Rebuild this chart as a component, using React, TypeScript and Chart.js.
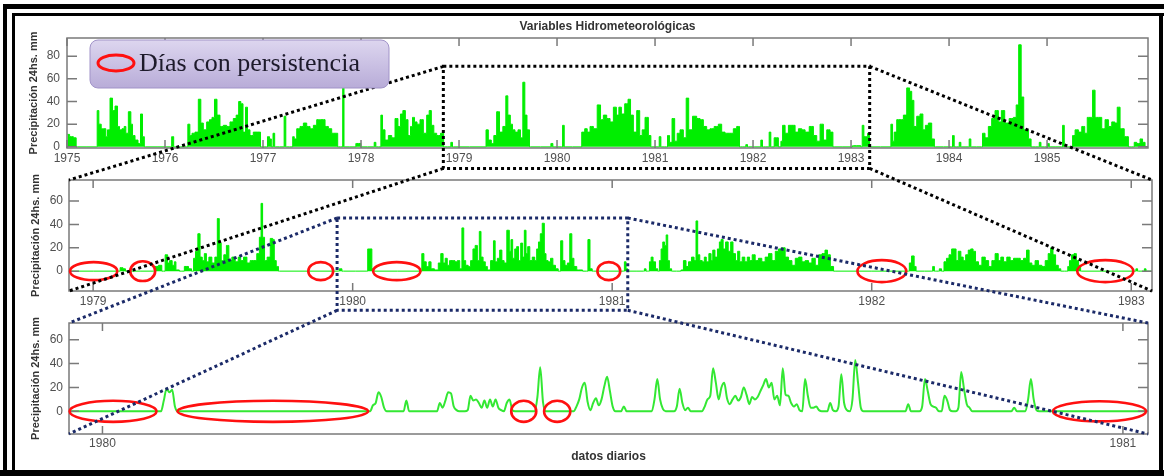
import React, { useEffect, useRef } from 'react';
import { Chart, registerables } from 'chart.js';

Chart.register(...registerables);

const FONT = '"Liberation Sans", Arial, Helvetica, sans-serif';
const GREEN_DENSE = '#00ee00';
const GREEN_LINE = '#33e833';
const AXIS_GRAY = '#7a7a7a';
const LABEL_GRAY = '#505050';
const TITLE_GRAY = '#333333';
const RED = '#ff1010';
const NAVY = '#1b2a68';

// ---------- Panel 1: 1975-1985 (readings: decimal year, mm) ----------
const p1Years = [
  1975.005, 1975.048, 1975.082, 1975.105, 1975.303, 1975.313, 1975.337, 1975.361, 1975.388, 1975.405,
  1975.422, 1975.456, 1975.473, 1975.507, 1975.524, 1975.548, 1975.575, 1975.592, 1975.609, 1975.643,
  1975.660, 1975.677, 1975.711, 1975.738, 1975.762, 1975.779, 1975.799, 1976.058, 1976.078, 1976.099,
  1976.221, 1976.245, 1976.262, 1976.289, 1976.323, 1976.357, 1976.374, 1976.408, 1976.442, 1976.466,
  1976.493, 1976.517, 1976.544, 1976.578, 1976.612, 1976.646, 1976.680, 1976.714, 1976.738, 1976.765,
  1976.782, 1976.810, 1976.833, 1976.850, 1976.884, 1976.918, 1976.963, 1976.986, 1977.037, 1977.054,
  1977.078, 1977.092, 1977.112, 1977.126, 1977.207, 1977.224, 1977.241, 1977.296, 1977.310, 1977.327,
  1977.361, 1977.395, 1977.429, 1977.463, 1977.497, 1977.531, 1977.565, 1977.588, 1977.616, 1977.650,
  1977.684, 1977.718, 1977.752, 1977.772, 1977.806, 1977.820, 1977.833, 1977.939, 1977.956, 1977.990,
  1978.007, 1978.126, 1978.143, 1978.160, 1978.194, 1978.211, 1978.228, 1978.262, 1978.296, 1978.330,
  1978.364, 1978.390, 1978.415, 1978.439, 1978.466, 1978.493, 1978.517, 1978.534, 1978.558, 1978.585,
  1978.619, 1978.653, 1978.687, 1978.704, 1978.731, 1978.755, 1978.789, 1978.833, 1978.854, 1978.908,
  1978.925, 1978.942, 1979.269, 1979.282, 1979.316, 1979.343, 1979.367, 1979.401, 1979.425, 1979.469,
  1979.486, 1979.510, 1979.537, 1979.554, 1979.588, 1979.615, 1979.639, 1979.663, 1979.680, 1979.707,
  1979.731, 1979.929, 1979.946, 1979.969, 1980.048, 1980.065, 1980.082, 1980.235, 1980.269, 1980.296,
  1980.320, 1980.354, 1980.388, 1980.432, 1980.456, 1980.490, 1980.524, 1980.558, 1980.592, 1980.619,
  1980.643, 1980.670, 1980.711, 1980.738, 1980.762, 1980.796, 1980.830, 1980.857, 1980.881, 1980.915,
  1980.949, 1980.966, 1981.034, 1981.051, 1981.068, 1981.119, 1981.136, 1981.160, 1981.187, 1981.214,
  1981.238, 1981.272, 1981.306, 1981.330, 1981.357, 1981.408, 1981.442, 1981.476, 1981.510, 1981.544,
  1981.578, 1981.629, 1981.663, 1981.697, 1981.731, 1981.782, 1981.816, 1981.850, 1981.874, 1981.918,
  1981.935, 1981.952, 1982.071, 1982.088, 1982.105, 1982.156, 1982.173, 1982.190, 1982.241, 1982.276,
  1982.293, 1982.310, 1982.344, 1982.378, 1982.412, 1982.446, 1982.480, 1982.514, 1982.548, 1982.599,
  1982.633, 1982.667, 1982.701, 1982.735, 1982.769, 1982.803, 1982.827, 1983.007, 1983.024, 1983.092,
  1983.109, 1983.119, 1983.143, 1983.160, 1983.177, 1983.201, 1983.398, 1983.415, 1983.432, 1983.449,
  1983.483, 1983.517, 1983.551, 1983.585, 1983.609, 1983.629, 1983.653, 1983.687, 1983.721, 1983.745,
  1983.772, 1983.806, 1983.840, 1983.861, 1984.027, 1984.044, 1984.061, 1984.095, 1984.112, 1984.129,
  1984.197, 1984.214, 1984.231, 1984.333, 1984.350, 1984.384, 1984.418, 1984.452, 1984.486, 1984.520,
  1984.548, 1984.588, 1984.639, 1984.673, 1984.697, 1984.724, 1984.748, 1984.776, 1984.793, 1984.827,
  1984.847, 1984.912, 1984.929, 1984.946, 1984.997, 1985.014, 1985.031, 1985.150, 1985.167, 1985.184,
  1985.252, 1985.269, 1985.303, 1985.337, 1985.371, 1985.398, 1985.422, 1985.456, 1985.473, 1985.507,
  1985.541, 1985.575, 1985.609, 1985.643, 1985.677, 1985.704, 1985.728, 1985.762, 1985.813, 1985.847,
  1985.881, 1985.898, 1985.932, 1985.966, 1985.983, 1986.017, 1986.030,
];
const p1Rain = [
  11, 9, 8, 0, 0, 32, 20, 16, 16, 9,
  15, 43, 32, 36, 18, 15, 16, 18, 12, 31,
  20, 10, 6, 3, 29, 9, 0, 0, 9, 0,
  0, 20, 10, 12, 13, 42, 21, 15, 22, 24,
  26, 42, 28, 18, 19, 18, 22, 25, 28, 40,
  38, 13, 35, 15, 10, 13, 13, 0, 0, 9,
  7, 0, 12, 0, 0, 27, 0, 0, 9, 7,
  16, 18, 21, 18, 16, 19, 24, 24, 24, 18,
  16, 12, 12, 0, 0, 54, 0, 0, 3, 3,
  0, 0, 4, 0, 0, 28, 15, 6, 10, 8,
  25, 18, 29, 32, 24, 10, 18, 26, 22, 20,
  24, 12, 28, 32, 19, 12, 10, 12, 0, 0,
  4, 0, 0, 15, 6, 3, 10, 31, 13, 18,
  45, 28, 20, 15, 13, 15, 8, 57, 28, 15,
  0, 0, 3, 0, 0, 19, 0, 0, 13, 16,
  13, 18, 16, 37, 24, 28, 25, 22, 35, 28,
  35, 29, 38, 42, 28, 13, 32, 10, 15, 26,
  10, 0, 0, 9, 0, 0, 10, 4, 25, 5,
  12, 15, 8, 43, 15, 27, 25, 24, 18, 15,
  16, 18, 20, 13, 12, 12, 16, 18, 0, 0,
  2, 0, 0, 6, 0, 0, 13, 0, 8, 0,
  5, 19, 12, 19, 19, 13, 16, 15, 13, 18,
  10, 5, 20, 6, 15, 13, 0, 0, 1, 1,
  0, 19, 9, 9, 12, 0, 0, 20, 5, 13,
  24, 24, 28, 52, 49, 41, 18, 27, 29, 15,
  19, 21, 7, 0, 0, 10, 0, 0, 4, 0,
  0, 7, 0, 0, 12, 8, 18, 25, 32, 22,
  32, 21, 25, 26, 37, 90, 44, 15, 15, 7,
  0, 0, 4, 0, 0, 3, 0, 0, 19, 0,
  0, 10, 15, 13, 18, 12, 26, 26, 50, 26,
  26, 16, 24, 18, 22, 21, 35, 16, 9, 0,
  0, 4, 3, 7, 4, 0, 0,
];
const p1XTicks = [1975, 1976, 1977, 1978, 1979, 1980, 1981, 1982, 1983, 1984, 1985];
const p1YTicks = [0, 20, 40, 60, 80];

// ---------- Panel 2: 1979-1982 (readings: decimal year, mm) ----------
const p2Years = [
  1978.907, 1979.098, 1979.110, 1979.119, 1979.130, 1979.232, 1979.245, 1979.258, 1979.271, 1979.284,
  1979.290, 1979.299, 1979.310, 1979.316, 1979.322, 1979.342, 1979.361, 1979.374, 1979.384, 1979.390,
  1979.399, 1979.408, 1979.416, 1979.425, 1979.432, 1979.441, 1979.451, 1979.464, 1979.474, 1979.483,
  1979.489, 1979.498, 1979.509, 1979.518, 1979.528, 1979.541, 1979.554, 1979.564, 1979.573, 1979.586,
  1979.599, 1979.611, 1979.624, 1979.637, 1979.644, 1979.650, 1979.656, 1979.665, 1979.676, 1979.689,
  1979.695, 1979.701, 1979.710, 1979.718, 1979.945, 1979.952, 1979.965, 1980.055, 1980.061, 1980.070,
  1980.078, 1980.083, 1980.263, 1980.270, 1980.279, 1980.288, 1980.299, 1980.305, 1980.325, 1980.335,
  1980.344, 1980.353, 1980.360, 1980.369, 1980.378, 1980.389, 1980.399, 1980.408, 1980.417, 1980.425,
  1980.431, 1980.440, 1980.450, 1980.459, 1980.468, 1980.476, 1980.485, 1980.491, 1980.498, 1980.507,
  1980.515, 1980.523, 1980.540, 1980.545, 1980.553, 1980.562, 1980.571, 1980.579, 1980.588, 1980.600,
  1980.607, 1980.613, 1980.620, 1980.629, 1980.635, 1980.643, 1980.652, 1980.658, 1980.665, 1980.671,
  1980.678, 1980.687, 1980.697, 1980.706, 1980.712, 1980.720, 1980.726, 1980.735, 1980.742, 1980.748,
  1980.758, 1980.767, 1980.776, 1980.787, 1980.797, 1980.806, 1980.813, 1980.823, 1980.832, 1980.841,
  1980.848, 1980.857, 1980.870, 1980.902, 1980.911, 1980.918, 1980.928, 1981.044, 1981.050, 1981.057,
  1981.063, 1981.121, 1981.127, 1981.134, 1981.140, 1981.147, 1981.153, 1981.162, 1981.172, 1981.179,
  1981.185, 1981.192, 1981.198, 1981.205, 1981.211, 1981.217, 1981.224, 1981.234, 1981.262, 1981.268,
  1981.281, 1981.288, 1981.300, 1981.311, 1981.320, 1981.326, 1981.333, 1981.342, 1981.352, 1981.358,
  1981.367, 1981.378, 1981.384, 1981.391, 1981.401, 1981.410, 1981.416, 1981.423, 1981.432, 1981.442,
  1981.452, 1981.461, 1981.470, 1981.480, 1981.487, 1981.496, 1981.506, 1981.516, 1981.525, 1981.534,
  1981.545, 1981.557, 1981.570, 1981.583, 1981.596, 1981.609, 1981.622, 1981.635, 1981.647, 1981.660,
  1981.673, 1981.686, 1981.699, 1981.712, 1981.725, 1981.737, 1981.750, 1981.763, 1981.776, 1981.789,
  1981.802, 1981.815, 1981.825, 1981.834, 1981.847, 1981.859, 1982.142, 1982.148, 1982.159, 1982.168,
  1982.174, 1982.232, 1982.238, 1982.245, 1982.257, 1982.264, 1982.274, 1982.283, 1982.293, 1982.303,
  1982.313, 1982.322, 1982.328, 1982.339, 1982.348, 1982.357, 1982.367, 1982.377, 1982.386, 1982.395,
  1982.405, 1982.418, 1982.431, 1982.444, 1982.457, 1982.469, 1982.482, 1982.493, 1982.502, 1982.514,
  1982.527, 1982.540, 1982.553, 1982.566, 1982.579, 1982.591, 1982.602, 1982.611, 1982.623, 1982.636,
  1982.649, 1982.662, 1982.675, 1982.685, 1982.694, 1982.703, 1982.714, 1982.724, 1982.733, 1982.752,
  1982.759, 1982.765, 1982.775, 1982.784, 1982.793, 1982.801, 1982.809, 1983.015, 1983.021, 1983.028,
  1983.047, 1983.054, 1983.060, 1983.080,
];
const p2Rain = [
  0, 0, 3, 2, 0, 0, 4, 5, 0, 14,
  7, 9, 5, 8, 1, 0, 4, 2, 0, 11,
  17, 32, 12, 9, 15, 8, 12, 7, 12, 45,
  24, 9, 14, 22, 9, 12, 8, 12, 9, 12,
  7, 9, 9, 15, 29, 58, 29, 9, 12, 28,
  27, 9, 4, 0, 0, 2, 0, 0, 19, 19,
  2, 0, 0, 15, 8, 4, 8, 2, 1, 7,
  15, 7, 11, 5, 9, 9, 8, 9, 2, 37,
  9, 5, 4, 9, 19, 22, 9, 34, 12, 8,
  4, 1, 9, 26, 8, 11, 18, 9, 7, 35,
  17, 27, 11, 19, 21, 9, 24, 12, 35, 15,
  21, 9, 12, 9, 19, 25, 32, 41, 15, 9,
  8, 11, 5, 2, 0, 26, 9, 5, 7, 32,
  11, 4, 1, 0, 27, 2, 0, 0, 8, 2,
  0, 0, 2, 0, 0, 8, 12, 8, 2, 0,
  9, 19, 25, 22, 31, 9, 2, 0, 0, 1,
  9, 4, 8, 12, 9, 43, 14, 9, 8, 12,
  8, 15, 9, 18, 12, 19, 25, 27, 19, 25,
  17, 25, 15, 9, 17, 8, 12, 8, 12, 9,
  14, 9, 11, 8, 12, 15, 9, 17, 19, 20,
  12, 9, 5, 11, 12, 8, 9, 7, 11, 5,
  14, 15, 18, 14, 4, 0, 0, 7, 13, 4,
  0, 0, 4, 0, 0, 2, 0, 8, 11, 14,
  19, 19, 9, 17, 12, 9, 14, 18, 19, 17,
  8, 5, 12, 9, 4, 9, 15, 9, 12, 8,
  12, 9, 11, 11, 9, 11, 18, 7, 5, 9,
  5, 4, 9, 15, 20, 14, 5, 2, 0, 0,
  4, 9, 14, 15, 9, 5, 0, 0, 2, 0,
  0, 2, 0, 0,
];
const p2XTicks = [1979, 1980, 1981, 1982, 1983];
const p2YTicks = [0, 20, 40, 60];

// ---------- Panel 3: daily data of 1980 (day 0 = 1 Jan 1980), rainy days only ----------
const p3FirstDay = -12;
const p3LastDay = 375;
const p3EventDays = [
  22, 23, 24, 25, 26, 97, 98, 99, 100, 101, 109,
  121, 122, 123, 124, 125, 126, 127,
  131, 132, 133, 134, 135, 136, 137, 138, 139, 140, 141, 142, 143, 145, 146, 147,
  156, 157, 158,
  170, 171, 172, 173, 174, 175, 176, 177, 178, 179, 180, 181, 182, 183, 187,
  198, 199, 200, 201, 206, 207, 208, 209, 210,
  216, 217, 218, 219, 220, 221, 222, 223, 224, 225, 226, 227, 228, 229, 230, 231, 232, 233,
  234, 235, 236, 237, 238, 239, 240, 241, 242, 243, 244, 245, 246, 247, 248, 249, 250,
  252, 253, 254, 255, 256, 257,
  261, 262, 264, 265, 266, 267, 269, 270, 271, 272,
  289, 294, 295, 296, 297, 298, 299, 302, 303, 304,
  307, 308, 309, 310, 311, 327, 332, 333, 334, 335,
];
const p3EventRain = [
  9, 19, 16, 18, 4, 5, 7, 16, 12, 3, 9,
  7, 3, 9, 16, 15, 4, 1,
  1, 13, 9, 10, 7, 3, 9, 3, 10, 4, 10, 3, 1, 7, 10, 1,
  12, 37, 8,
  4, 10, 20, 24, 8, 1, 7, 11, 5, 10, 21, 29, 17, 4, 4,
  10, 27, 10, 2, 4, 19, 7, 1, 3,
  4, 10, 13, 36, 24, 10, 20, 24, 11, 6, 10, 13, 9, 12, 20, 14, 6, 12,
  10, 12, 17, 22, 27, 20, 24, 10, 13, 5, 36, 14, 13, 7, 4, 6, 1,
  27, 13, 3, 3, 4, 1,
  7, 1, 4, 31, 7, 1, 10, 43, 24, 3,
  6, 4, 27, 17, 6, 4, 3, 13, 9, 1,
  3, 33, 19, 6, 3, 3, 10, 27, 10, 1,
];
const p3TickDays = [0, 366];
const p3TickLabels = ['1980', '1981'];
const p3YTicks = [0, 20, 40, 60];

// ---------- Annotations (data coordinates) ----------
const p2EllipseYears = [1979.002, 1979.191, 1979.877, 1980.170, 1980.987, 1982.039, 1982.900];
const p2EllipseHalfYears = [0.091, 0.048, 0.048, 0.091, 0.044, 0.094, 0.108];
const p2EllipseHalfMm = [7.7, 8.5, 7.7, 7.7, 7.7, 9.4, 9.4];
const p3EllipseDays = [3.8, 61.1, 151.1, 163.1, 357.6];
const p3EllipseHalfDays = [15.6, 34.2, 4.5, 4.7, 16.7];
const p3EllipseHalfMm = [8.8, 8.8, 8.8, 8.8, 8.4];
const zoom1Years = [1978.84, 1983.19];
const zoom1Mm = [71, -19];
const zoom2Years = [1979.94, 1981.06];
const zoom2Mm = [45.5, -33.5];

const W = 1164;
const H = 476;
const PANEL_TOPS = [16, 172, 312];
const PANEL_HEIGHTS = [156, 140, 158];

const boxTicksPlugin = {
  id: 'boxTicks',
  afterDatasetsDraw(chart: any) {
    const { ctx, chartArea: a, scales } = chart;
    ctx.save();
    ctx.strokeStyle = AXIS_GRAY;
    ctx.lineWidth = 1.5;
    ctx.strokeRect(a.left, a.top, a.right - a.left, a.bottom - a.top);
    ctx.beginPath();
    scales.x.ticks.forEach((t: any) => {
      const x = scales.x.getPixelForValue(t.value);
      ctx.moveTo(x, a.top); ctx.lineTo(x, a.top + 8);
      ctx.moveTo(x, a.bottom); ctx.lineTo(x, a.bottom - 8);
    });
    scales.y.ticks.forEach((t: any) => {
      const y = scales.y.getPixelForValue(t.value);
      ctx.moveTo(a.left, y); ctx.lineTo(a.left + 10, y);
      ctx.moveTo(a.right, y); ctx.lineTo(a.right - 10, y);
    });
    ctx.stroke();
    ctx.restore();
  },
};

function makeConfig(p: any): any {
  return {
    type: 'line',
    data: {
      datasets: [
        {
          data: p.points,
          borderColor: p.color,
          backgroundColor: p.color,
          borderWidth: p.lineWidth,
          pointRadius: 0,
          fill: p.fill ? 'origin' : false,
          stepped: p.stepped ? 'middle' : false,
          cubicInterpolationMode: p.smooth ? 'monotone' : 'default',
          tension: 0,
        },
      ],
    },
    options: {
      responsive: false,
      animation: false,
      events: [],
      layout: { padding: p.padding },
      plugins: {
        legend: { display: false },
        tooltip: { enabled: false },
        title: p.title
          ? {
              display: true,
              text: p.title,
              fullSize: false,
              color: TITLE_GRAY,
              font: { family: FONT, size: 12, weight: 'bold' },
              padding: { top: 3, bottom: 4.6 },
            }
          : { display: false },
      },
      scales: {
        x: {
          type: 'linear',
          min: p.xMin,
          max: p.xMax,
          grid: { display: false, drawTicks: false },
          border: { display: false },
          afterBuildTicks: (s: any) => {
            s.ticks = p.xTicks.map((v: number) => ({ value: v }));
          },
          afterFit: (s: any) => {
            s.height = p.xHeight;
            s.paddingLeft = 0;
            s.paddingRight = 0;
          },
          ticks: {
            autoSkip: false,
            maxRotation: 0,
            minRotation: 0,
            padding: p.xPad,
            color: LABEL_GRAY,
            font: { family: FONT, size: 12 },
            callback: (_v: any, i: number) => p.xLabels[i],
          },
          title: p.xTitle
            ? {
                display: true,
                text: p.xTitle,
                color: TITLE_GRAY,
                font: { family: FONT, size: 12, weight: 'bold' },
                padding: { top: 0, bottom: 5.8 },
              }
            : { display: false },
        },
        y: {
          type: 'linear',
          min: p.yMin,
          max: p.yMax,
          grid: { display: false, drawTicks: false },
          border: { display: false },
          afterBuildTicks: (s: any) => {
            s.ticks = p.yTicks.map((v: number) => ({ value: v }));
          },
          afterFit: (s: any) => {
            s.width = 40;
            s.paddingTop = 0;
            s.paddingBottom = 0;
          },
          ticks: {
            padding: p.yPad,
            color: LABEL_GRAY,
            font: { family: FONT, size: 12 },
            callback: (v: any) => String(v),
          },
          title: {
            display: true,
            text: 'Precipitación 24hs. mm',
            color: TITLE_GRAY,
            font: { family: FONT, size: 11, weight: 'bold' },
            padding: { top: 0, bottom: 0 },
          },
        },
      },
    },
    plugins: [boxTicksPlugin],
  };
}

function drawOverlay(ctx: CanvasRenderingContext2D, charts: any[]) {
  const [c1, c2, c3] = charts;
  const X = (c: any, v: number) => c.scales.x.getPixelForValue(v);
  const Y = (c: any, i: number, v: number) => c.scales.y.getPixelForValue(v) + PANEL_TOPS[i];
  const area = (c: any, i: number) => ({
    left: c.chartArea.left,
    right: c.chartArea.right,
    top: c.chartArea.top + PANEL_TOPS[i],
    bottom: c.chartArea.bottom + PANEL_TOPS[i],
  });

  ctx.clearRect(0, 0, W, H);

  // double black frame
  ctx.fillStyle = '#000';
  ctx.fillRect(3, 4, W - 3, 5);
  ctx.fillRect(3, 4, 4, H - 4);
  ctx.fillRect(12, 13, W - 12, 3);
  ctx.fillRect(12, 13, 3, H - 13);
  ctx.fillRect(1159, 13, 4, H - 13);
  ctx.fillRect(0, 470, W, 6);

  // persistence ellipses
  ctx.save();
  ctx.strokeStyle = RED;
  ctx.lineWidth = 2.6;
  p2EllipseYears.forEach((yr, k) => {
    const cx = X(c2, yr);
    const rx = X(c2, yr + p2EllipseHalfYears[k]) - cx;
    const cy = Y(c2, 1, 0);
    const ry = cy - Y(c2, 1, p2EllipseHalfMm[k]);
    ctx.beginPath();
    ctx.ellipse(cx, cy, rx, ry, 0, 0, Math.PI * 2);
    ctx.stroke();
  });
  p3EllipseDays.forEach((d, k) => {
    const cx = X(c3, d);
    const rx = X(c3, d + p3EllipseHalfDays[k]) - cx;
    const cy = Y(c3, 2, 0);
    const ry = cy - Y(c3, 2, p3EllipseHalfMm[k]);
    ctx.beginPath();
    ctx.ellipse(cx, cy, rx, ry, 0, 0, Math.PI * 2);
    ctx.stroke();
  });
  ctx.restore();

  const zoomBox = (c: any, i: number, xs: number[], ys: number[], next: any, color: string) => {
    const L = X(c, xs[0]);
    const R = X(c, xs[1]);
    const T = Y(c, i, ys[0]);
    const B = Y(c, i, ys[1]);
    ctx.save();
    ctx.strokeStyle = color;
    ctx.lineWidth = 3;
    ctx.setLineDash([3, 3]);
    ctx.beginPath();
    ctx.rect(L, T, R - L, B - T);
    ctx.moveTo(L, T); ctx.lineTo(next.left, next.top);
    ctx.moveTo(L, B); ctx.lineTo(next.left, next.bottom);
    ctx.moveTo(R, T); ctx.lineTo(next.right, next.top);
    ctx.moveTo(R, B); ctx.lineTo(next.right, next.bottom);
    ctx.stroke();
    ctx.restore();
  };
  zoomBox(c1, 0, zoom1Years, zoom1Mm, area(c2, 1), '#000000');
  zoomBox(c2, 1, zoom2Years, zoom2Mm, area(c3, 2), NAVY);

  // legend box
  ctx.save();
  const g = ctx.createLinearGradient(0, 40, 0, 88);
  g.addColorStop(0, '#ddd6ef');
  g.addColorStop(1, '#b8acd8');
  ctx.beginPath();
  (ctx as any).roundRect(90, 40, 299, 48, 8);
  ctx.fillStyle = g;
  ctx.fill();
  ctx.strokeStyle = '#a193c8';
  ctx.lineWidth = 1;
  ctx.stroke();
  ctx.beginPath();
  ctx.ellipse(116, 63, 18, 8, 0, 0, Math.PI * 2);
  ctx.strokeStyle = RED;
  ctx.lineWidth = 3;
  ctx.stroke();
  ctx.font = '26px "Liberation Serif", "Times New Roman", serif';
  ctx.fillStyle = '#1d1a2b';
  ctx.textBaseline = 'alphabetic';
  ctx.fillText('Días con persistencia', 139, 71);
  ctx.restore();
}

export default function App() {
  const r1 = useRef<HTMLCanvasElement>(null);
  const r2 = useRef<HTMLCanvasElement>(null);
  const r3 = useRef<HTMLCanvasElement>(null);
  const ov = useRef<HTMLCanvasElement>(null);

  useEffect(() => {
    const p3Points: { x: number; y: number }[] = [];
    for (let d = p3FirstDay; d <= p3LastDay; d++) {
      const k = p3EventDays.indexOf(d);
      p3Points.push({ x: d, y: k >= 0 ? p3EventRain[k] : 0 });
    }
    const cfg1 = makeConfig({
      points: p1Years.map((x, i) => ({ x, y: p1Rain[i] })),
      color: GREEN_DENSE, lineWidth: 1, fill: true, stepped: true, smooth: false,
      padding: { left: 27, right: 16, top: 0, bottom: 0 },
      title: 'Variables Hidrometeorológicas',
      xMin: 1975, xMax: 1986.03, xTicks: p1XTicks, xLabels: p1XTicks.map(String), xHeight: 24, xPad: 3.8,
      yMin: -1, yMax: 96, yTicks: p1YTicks, yPad: 7,
    });
    const cfg2 = makeConfig({
      points: p2Years.map((x, i) => ({ x, y: p2Rain[i] })),
      color: GREEN_DENSE, lineWidth: 1, fill: true, stepped: true, smooth: false,
      padding: { left: 29, right: 12, top: 8, bottom: 0 },
      xMin: 1978.907, xMax: 1983.08, xTicks: p2XTicks, xLabels: p2XTicks.map(String), xHeight: 21, xPad: 3.8,
      yMin: -17, yMax: 78, yTicks: p2YTicks, yPad: 6,
    });
    const cfg3 = makeConfig({
      points: p3Points,
      color: GREEN_LINE, lineWidth: 2, fill: false, stepped: false, smooth: true,
      padding: { left: 29, right: 16, top: 11, bottom: 0 },
      xMin: p3FirstDay, xMax: p3LastDay, xTicks: p3TickDays, xLabels: p3TickLabels, xHeight: 36, xPad: 2,
      xTitle: 'datos diarios',
      yMin: -19, yMax: 74, yTicks: p3YTicks, yPad: 6,
    });
    const charts = [
      new Chart(r1.current as HTMLCanvasElement, cfg1),
      new Chart(r2.current as HTMLCanvasElement, cfg2),
      new Chart(r3.current as HTMLCanvasElement, cfg3),
    ];
    const ctx = (ov.current as HTMLCanvasElement).getContext('2d') as CanvasRenderingContext2D;
    drawOverlay(ctx, charts);
    return () => {
      charts.forEach((c) => c.destroy());
      ctx.clearRect(0, 0, W, H);
    };
  }, []);

  const abs = (top: number, h: number): React.CSSProperties => ({
    position: 'absolute', left: 0, top, width: W, height: h,
  });

  return (
    <div style={{ position: 'absolute', left: 0, top: 0, width: W, height: H, background: '#ffffff', overflow: 'hidden' }}>
      <canvas ref={r1} width={W} height={PANEL_HEIGHTS[0]} style={abs(PANEL_TOPS[0], PANEL_HEIGHTS[0])} />
      <canvas ref={r2} width={W} height={PANEL_HEIGHTS[1]} style={abs(PANEL_TOPS[1], PANEL_HEIGHTS[1])} />
      <canvas ref={r3} width={W} height={PANEL_HEIGHTS[2]} style={abs(PANEL_TOPS[2], PANEL_HEIGHTS[2])} />
      <canvas ref={ov} width={W} height={H} style={{ ...abs(0, H), pointerEvents: 'none' }} />
    </div>
  );
}
